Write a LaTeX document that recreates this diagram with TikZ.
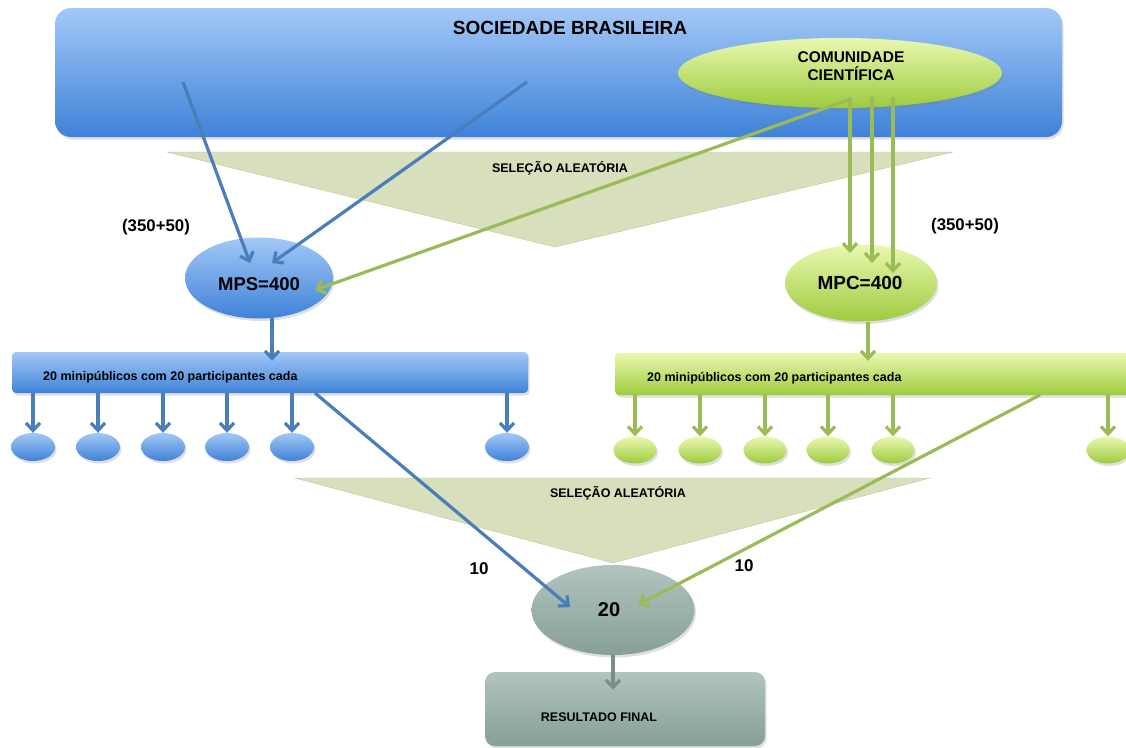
\documentclass[tikz,border=0pt]{standalone}
\usepackage{fontspec}
\setmainfont{Liberation Sans}
\usetikzlibrary{shapes.geometric,arrows.meta,shadows,calc}
\definecolor{bluetop}{HTML}{A3C8F6}
\definecolor{bluebot}{HTML}{3F82D8}
\definecolor{bluearr}{HTML}{4A7EBB}
\definecolor{greentop}{HTML}{EAF8B0}
\definecolor{greenbot}{HTML}{9DCB3E}
\definecolor{greenarr}{HTML}{9BBB59}
\definecolor{trifill}{HTML}{D7DFBC}
\definecolor{triedge}{HTML}{BFC99F}
\definecolor{graytop}{HTML}{B2C4BF}
\definecolor{graybot}{HTML}{869F98}
\definecolor{grayarr}{HTML}{7C8C88}
\begin{document}
\begin{tikzpicture}[x=1pt,y=-1pt,
  shad/.style={drop shadow={opacity=0.25,shadow xshift=1.5pt,shadow yshift=-2.5pt}},
  bluefill/.style={top color=bluetop,bottom color=bluebot,draw=none,shad},
  greenfill/.style={top color=greentop,bottom color=greenbot,draw=none,shad},
  grayfill/.style={top color=graytop,bottom color=graybot,draw=none,shad},
  ell/.style={ellipse,inner sep=0},
  lbl/.style={inner sep=0,text=black},
  tip/.style={-{Straight Barb[length=7.5pt,width=14pt]}},
  barr/.style={draw=bluearr,line width=3.2pt,tip},
  garr/.style={draw=greenarr,line width=3.2pt,tip},
  grarr/.style={draw=grayarr,line width=3.2pt,tip}
]
\useasboundingbox (0,0) rectangle (1126,747);
\fill[white] (0,0) rectangle (1126,747);
\clip (0,0) rectangle (1126,747);

% triangles
\draw[fill=trifill,draw=triedge] (167,152) -- (953,152) -- (555,247) -- cycle;
\draw[fill=trifill,draw=triedge] (295,478) -- (930,478) -- (613,563) -- cycle;
\node[lbl,font=\bfseries\fontsize{12.5}{14}\selectfont] (sel1) at (560,168) {SELEÇÃO ALEATÓRIA};
\node[lbl,font=\bfseries\fontsize{12.5}{14}\selectfont] (sel2) at (618,493) {SELEÇÃO ALEATÓRIA};

% top box
\node[bluefill,rounded corners=16pt,minimum width=1007pt,minimum height=129pt] (soc) at (558.5,72.5) {};
\node[lbl,font=\bfseries\fontsize{19}{21}\selectfont] (soct) at (570,28) {SOCIEDADE BRASILEIRA};
\node[greenfill,ell,minimum width=324pt,minimum height=70pt] (com) at (840,73) {};
\node[lbl,font=\bfseries\fontsize{15.5}{18}\selectfont,align=center] (comt) at (851,66) {COMUNIDADE\\CIENTÍFICA};

% second level
\node[bluefill,ell,minimum width=148pt,minimum height=81pt] (mps) at (259,278) {};
\node[lbl,font=\bfseries\fontsize{18.5}{21}\selectfont] (mpst) at (259,284) {MPS=400};
\node[greenfill,ell,minimum width=152pt,minimum height=77pt] (mpc) at (861,283) {};
\node[lbl,font=\bfseries\fontsize{19}{21}\selectfont] (mpct) at (860,283) {MPC=400};
\node[lbl,font=\bfseries\fontsize{16.8}{19}\selectfont] (l1) at (156,227) {(350+50)};
\node[lbl,font=\bfseries\fontsize{16.8}{19}\selectfont] (l2) at (965,226) {(350+50)};

% arrows from society
\coordinate (s1) at (183,82);
\coordinate (s2) at (527,82);
\coordinate (e1) at (250,263);
\coordinate (e2) at (272,263);
\draw[barr] (s1) -- (e1);
\draw[barr] (s2) -- (e2);
\coordinate (c0) at (848,100);
\coordinate (c1) at (872,97);
\coordinate (c2) at (893,97);
\coordinate (v0) at (850,97);
\coordinate (e3) at (315,290);
\draw[garr] (c0) -- (e3);
\draw[garr] (v0) -- (v0 |- 0,253);
\draw[garr] (c1) -- (c1 |- 0,263);
\draw[garr] (c2) -- (c2 |- 0,273);

% bars
\node[bluefill,rounded corners=4pt,minimum width=516pt,minimum height=41pt] (bbar) at (270,372.5) {};
\node[lbl,anchor=west,font=\bfseries\fontsize{12.5}{14}\selectfont] (bbart) at (43,377) {20 minipúblicos com 20 participantes cada};
\node[greenfill,rounded corners=4pt,minimum width=530pt,minimum height=42pt] (gbar) at (880,374) {};
\node[lbl,anchor=west,font=\bfseries\fontsize{12.5}{14}\selectfont] (gbart) at (647,378) {20 minipúblicos com 20 participantes cada};
\coordinate (m1) at (272,318);
\coordinate (m2) at (868,322);
\draw[barr] (m1) -- ($(m1 |- bbar.north)+(0,9)$);
\draw[garr] (m2) -- ($(m2 |- gbar.north)+(0,8)$);

% small ellipses
\foreach \i/\x in {1/33,2/98,3/163,4/227,5/292,6/507}{
  \node[bluefill,ell,minimum width=44pt,minimum height=28pt] (b\i) at (\x,447) {};
  \draw[barr] (bbar.south -| b\i.north) -- (b\i.north);
}
\foreach \i/\x in {1/635,2/700,3/765,4/828,5/893,6/1108}{
  \node[greenfill,ell,minimum width=43pt,minimum height=27pt] (g\i) at (\x,450) {};
  \draw[garr] (gbar.south -| g\i.north) -- (g\i.north);
}

% bottom
\node[grayfill,ell,minimum width=163pt,minimum height=90pt] (r20) at (613,610) {};
\node[lbl,font=\bfseries\fontsize{20}{22}\selectfont] (r20t) at (609,610) {20};
\node[grayfill,rounded corners=10pt,minimum width=280pt,minimum height=74pt] (fin) at (625,709) {};
\node[lbl,font=\bfseries\fontsize{12.5}{14}\selectfont] (fint) at (599,717) {RESULTADO FINAL};
\node[lbl,font=\bfseries\fontsize{17}{19}\selectfont] (t1) at (479,569) {10};
\node[lbl,font=\bfseries\fontsize{17}{19}\selectfont] (t2) at (744,566) {10};

\coordinate (bs) at (315,393);
\coordinate (be) at (570,607);
\coordinate (gs) at (1040,395);
\coordinate (ge) at (638,605);
\draw[barr] (bs) -- (be);
\draw[garr] (gs) -- (ge);
\draw[grarr] (r20.south) -- ($(r20.south |- fin.north)+(0,18)$);
\end{tikzpicture}
\end{document}
